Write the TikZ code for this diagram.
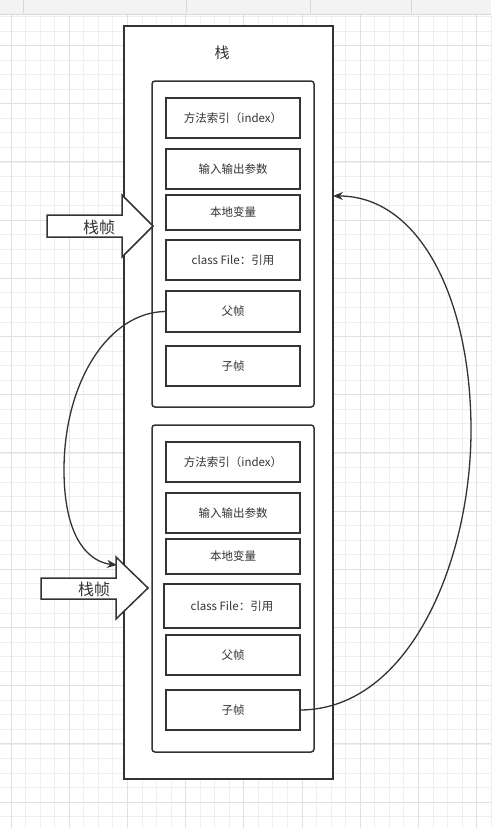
\documentclass[tikz,border=0pt]{standalone}
\usepackage{fontspec}
\setmainfont{Noto Sans CJK SC}
\usetikzlibrary{arrows.meta}
\definecolor{ink}{HTML}{333333}
\definecolor{gridl}{HTML}{EFEFEF}
\definecolor{gridd}{HTML}{E0E0E0}
\definecolor{barbg}{HTML}{F3F3F3}
\definecolor{barline}{HTML}{D6D6D6}
\tikzset{
  cell/.style={draw=ink, line width=1.5pt, fill=white, minimum width=134pt, inner sep=0pt, font=\fontsize{11.5}{13}\selectfont, text=ink},
  frame/.style={draw=ink, line width=1.5pt, rounded corners=3pt, fill=white, minimum width=162pt, inner sep=0pt},
  stackbox/.style={draw=ink, line width=1.5pt, fill=white, minimum width=209pt, minimum height=753pt, inner sep=0pt},
  blockarrow/.style={draw=ink, line width=1.5pt, fill=white, line join=miter},
  biglabel/.style={font=\fontsize{16}{18}\selectfont, text=ink, inner sep=0pt},
  link/.style={draw=ink, line width=1.3pt, -{Stealth[length=10pt,width=8pt]}}
}
\begin{document}
\begin{tikzpicture}[x=1pt,y=-1pt]
\useasboundingbox (0,0) rectangle (491,828);
% background grid
\fill[white] (0,0) rectangle (491,828);
\foreach \i in {0,...,33} {\draw[gridl, line width=0.9pt] ({11+14.55*\i},14) -- ({11+14.55*\i},828);}
\foreach \i in {0,...,55} {\draw[gridl, line width=0.9pt] (0,{16.45+14.55*\i}) -- (491,{16.45+14.55*\i});}
\foreach \i in {0,...,8} {\draw[gridd, line width=0.9pt] ({11+58.2*\i},14) -- ({11+58.2*\i},828);}
\foreach \i in {0,...,13} {\draw[gridd, line width=0.9pt] (0,{802-58.2*\i}) -- (491,{802-58.2*\i});}
% toolbar strip
\fill[barbg] (0,0) rectangle (491,14);
\draw[barline, line width=0.8pt] (0,14) -- (491,14);
\foreach \sx in {23,186,310,411} {\draw[barline, line width=0.8pt] (\sx,0) -- (\sx,13);}

% stack
\node[stackbox] (outer) at (228.5,402.5) {};
\node[font=\fontsize{15}{17}\selectfont, text=ink, inner sep=0pt] (title) at (222,53) {栈};

% upper frame
\node[frame, minimum height=326pt] (f1) at (233,244) {};
\node[cell, minimum height=40pt] (m1) at (233,118) {方法索引（index）};
\node[cell, minimum height=40pt] (io1) at (233,169) {输入输出参数};
\node[cell, minimum height=35pt] (loc1) at (233,212.5) {本地变量};
\node[cell, minimum height=40pt] (cls1) at (233,260) {class File：引用};
\node[cell, minimum height=41pt] (par1) at (233,311.5) {父帧};
\node[cell, minimum height=40pt] (chi1) at (233,366) {子帧};

% lower frame
\node[frame, minimum height=327pt] (f2) at (233,588.5) {};
\node[cell, minimum height=40pt] (m2) at (233,462) {方法索引（index）};
\node[cell, minimum height=40pt] (io2) at (233,513) {输入输出参数};
\node[cell, minimum height=35pt] (loc2) at (233,556.5) {本地变量};
\node[cell, minimum height=44pt, minimum width=136pt] (cls2) at (232,606) {class File：引用};
\node[cell, minimum height=40pt] (par2) at (233,655) {父帧};
\node[cell, minimum height=40pt] (chi2) at (233,710) {子帧};

% block arrows
\draw[blockarrow] (47,215) -- (122,215) -- (122,195) -- (153,226) -- (122,257) -- (122,237) -- (47,237) -- cycle;
\node[biglabel] (lab1) at (99,227) {栈帧};
\draw[blockarrow] (41,578) -- (116,578) -- (116,557) -- (148,588) -- (116,619) -- (116,599) -- (41,599) -- cycle;
\node[biglabel] (lab2) at (94,589) {栈帧};

% connectors
\coordinate (a2top) at (117,565);
\coordinate (outerhit) at (333,196);
\draw[link] (par1.west) .. controls (110,312) and (64,380) .. (64,470) .. controls (64,540) and (90,562) .. (a2top);
\draw[link] (chi2.east) .. controls (410,709) and (471,560) .. (471,430) .. controls (471,300) and (420,196) .. (outerhit);
\end{tikzpicture}
\end{document}
